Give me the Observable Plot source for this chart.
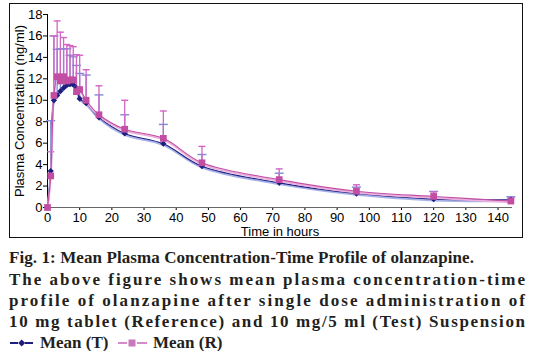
<!DOCTYPE html>
<html>
<head>
<meta charset="utf-8">
<script src="https://cdn.jsdelivr.net/npm/d3@7"></script>
<script src="https://cdn.jsdelivr.net/npm/@observablehq/plot@0.6"></script>
<style>
  html, body { margin: 0; padding: 0; background: #fff; }
  #wrap { position: relative; width: 538px; height: 351px; overflow: hidden; background: #fff; }
  #box { position: absolute; left: 9px; top: 3px; width: 512px; height: 233px; border: 1.5px solid #111; }
  #chart { position: absolute; left: 0; top: 0; }
  #caption { position: absolute; left: 0; top: 0; }
</style>
</head>
<body>
<div id="wrap">
  <div id="box"></div>
  <div id="chart"></div>
  <svg id="caption" width="538" height="351"></svg>
</div>
<script>
// ---- data ----
const times  = [0, 1, 2, 3, 4, 5, 6, 7, 8, 9, 10, 12, 16, 24, 36, 48, 72, 96, 120, 144];
const meanT  = [0, 3.4, 10.0, 10.45, 10.85, 11.15, 11.4, 11.5, 11.45, 11.15, 10.15, 9.73, 8.4, 6.9, 5.95, 3.85, 2.3, 1.3, 0.78, 0.72];
const upperT = [0, 8.1, 16.0, 14.75, 14.8, 14.8, 14.8, 14.2, 14.05, 13.25, 12.5, 12.35, 10.5, 8.65, 7.75, 4.94, 3.2, 1.9, 1.5, 1.0];
const meanR  = [0, 2.95, 10.45, 12.2, 11.8, 12.2, 11.8, 11.9, 11.9, 10.8, 11.0, 10.0, 8.65, 7.3, 6.45, 4.17, 2.6, 1.52, 1.03, 0.6];
const upperR = [0, 5.2, 16.0, 17.4, 16.35, 15.85, 15.2, 15.1, 15.0, 14.25, 14.2, 12.85, 11.35, 10.0, 9.0, 5.7, 3.6, 2.12, 1.45, 0.9];
const xTicks = [0, 10, 20, 30, 40, 50, 60, 70, 80, 90, 100, 110, 120, 130, 140];
const yTicks = [0, 2, 4, 6, 8, 10, 12, 14, 16, 18];
const yLabel = "Plasma Concentration (ng/ml)";
const xLabel = "Time in hours";
const captionLines = [
  "Fig. 1: Mean Plasma Concentration-Time Profile of olanzapine.",
  "The above figure shows mean plasma concentration-time",
  "profile of olanzapine after single dose administration of",
  "10 mg tablet (Reference) and 10 mg/5 ml (Test) Suspension"
];
const legendLabels = ["Mean (T)", "Mean (R)"];

const rowsT = times.map((t, i) => ({t, mean: meanT[i], upper: upperT[i]}));
const rowsR = times.map((t, i) => ({t, mean: meanR[i], upper: upperR[i]}));
const barsT = rowsT.filter(d => d.upper > d.mean);
const barsR = rowsR.filter(d => d.upper > d.mean);

const cap = {draw(ctx, size) { const w = Math.sqrt(size / Math.PI); ctx.moveTo(-w, 0); ctx.lineTo(w, 0); }};

const navy = "#1e1e80", navyLight = "#a7b2e8", blueBar = "#7d8cd6";
const pink = "#c24ea4", pinkLight = "#ebb0dc", pinkBar = "#d466c4";

const chart = Plot.plot({
  width: 538,
  height: 240,
  marginLeft: 47,
  marginRight: 26,
  marginTop: 14,
  marginBottom: 33,
  x: {domain: [0, 144.5]},
  y: {domain: [0, 18]},
  style: {fontFamily: "Liberation Sans, Arial, sans-serif", fontSize: "13px", color: "#000", background: "transparent", overflow: "visible"},
  marks: [
    Plot.axisY({ticks: yTicks, tickSize: 4, tickPadding: 1, label: yLabel, labelAnchor: "center", labelArrow: "none", labelOffset: 33, fontSize: 13}),
    Plot.axisX({ticks: xTicks, tickSize: 3, tickPadding: 2, label: xLabel, labelAnchor: "center", labelArrow: "none", labelOffset: 28, fontSize: 13}),
    Plot.ruleY([0], {stroke: "#666", strokeWidth: 1.2}),
    Plot.ruleX([0], {stroke: "#000", strokeWidth: 1}),
    Plot.ruleX(barsT, {x: "t", y1: "mean", y2: "upper", stroke: blueBar, strokeWidth: 1.3}),
    Plot.dot(barsT, {x: "t", y: "upper", r: 4.5, symbol: cap, stroke: blueBar, fill: "none", strokeWidth: 1.4}),
    Plot.ruleX(barsR, {x: "t", y1: "mean", y2: "upper", stroke: pinkBar, strokeWidth: 1.3}),
    Plot.dot(barsR, {x: "t", y: "upper", r: 3.5, symbol: cap, stroke: pinkBar, fill: "none", strokeWidth: 1.4}),
    Plot.line(rowsT, {x: "t", y: "mean", stroke: navyLight, strokeWidth: 2, curve: "catmull-rom", dy: 1.3}),
    Plot.line(rowsT, {x: "t", y: "mean", stroke: navy, strokeWidth: 1.1, curve: "catmull-rom"}),
    Plot.line(rowsR, {x: "t", y: "mean", stroke: pinkLight, strokeWidth: 2, curve: "catmull-rom", dy: 1.3}),
    Plot.line(rowsR, {x: "t", y: "mean", stroke: pink, strokeWidth: 1.1, curve: "catmull-rom"}),
    Plot.dot(rowsT, {x: "t", y: "mean", symbol: "diamond2", r: 2.8, fill: navy, stroke: "none"}),
    Plot.dot(rowsR, {x: "t", y: "mean", symbol: "square", r: 3.8, fill: pink, stroke: "none"})
  ]
});
document.getElementById("chart").appendChild(chart);

// ---- caption and legend below the plot ----
const svg = d3.select("#caption");
const capFont = "'Liberation Serif', 'DejaVu Serif', serif";
const baselines = [263, 285, 306, 327];
const lengths = [465, 516, 516, 516];
captionLines.forEach((s, i) => {
  svg.append("text").attr("x", 9).attr("y", baselines[i])
    .attr("font-family", capFont).attr("font-size", 17).attr("font-weight", "bold")
    .attr("fill", "#231f20")
    .attr("textLength", lengths[i]).attr("lengthAdjust", "spacing")
    .text(s);
});
const ly = 348, lmid = ly - 5;
// legend T
svg.append("line").attr("x1", 10).attr("x2", 18).attr("y1", lmid).attr("y2", lmid).attr("stroke", navy).attr("stroke-width", 2);
svg.append("line").attr("x1", 25).attr("x2", 33).attr("y1", lmid).attr("y2", lmid).attr("stroke", navy).attr("stroke-width", 2);
svg.append("path").attr("d", `M21.7,${lmid-3.5}L25.2,${lmid}L21.7,${lmid+3.5}L18.2,${lmid}Z`).attr("fill", navy);
svg.append("text").attr("x", 40).attr("y", ly).attr("font-family", capFont).attr("font-size", 17).attr("font-weight", "bold").attr("fill", "#231f20").text(legendLabels[0]);
// legend R
svg.append("line").attr("x1", 118).attr("x2", 127).attr("y1", lmid).attr("y2", lmid).attr("stroke", "#d68ac8").attr("stroke-width", 2);
svg.append("line").attr("x1", 137).attr("x2", 147).attr("y1", lmid).attr("y2", lmid).attr("stroke", "#d68ac8").attr("stroke-width", 2);
svg.append("rect").attr("x", 128.5).attr("y", lmid - 3.5).attr("width", 7).attr("height", 7).attr("fill", "#c878bc");
svg.append("text").attr("x", 153).attr("y", ly).attr("font-family", capFont).attr("font-size", 17).attr("font-weight", "bold").attr("fill", "#231f20").text(legendLabels[1]);
</script>
</body>
</html>
